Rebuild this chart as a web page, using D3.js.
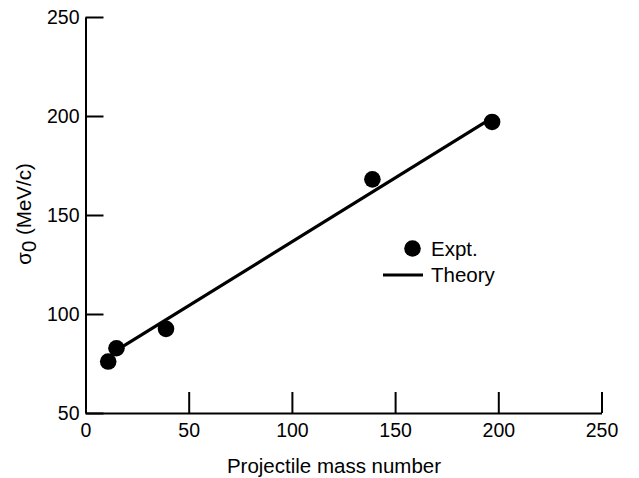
<!DOCTYPE html>
<html>
<head>
<meta charset="utf-8">
<script src="https://cdn.jsdelivr.net/npm/d3@7"></script>
<style>
  html, body { margin: 0; padding: 0; background: #fff; }
  svg { display: block; }
  text { font-family: "Liberation Sans", Arial, Helvetica, sans-serif; fill: #000; }
</style>
</head>
<body>
<svg id="chart" width="639" height="478"></svg>
<script>
// Data
const massNumbers = [11, 15, 39, 139, 197];
const sigma0 = [76, 82.7, 92.5, 168, 197];
const theoryMass = [14, 197];
const theorySigma = [81, 199];
const xTicks = [0, 50, 100, 150, 200, 250];
const yTicks = [50, 100, 150, 200, 250];
const legendLabels = ["Expt.", "Theory"];

const svg = d3.select("#chart");
const x = d3.scaleLinear().domain([0, 250]).range([85.5, 601.5]);
const y = d3.scaleLinear().domain([50, 250]).range([413, 17]);
const fs = 19.5;
const fsTitle = 20.5;

// X axis
const gx = svg.append("g").attr("transform", `translate(0,${y(50)})`)
  .call(d3.axisBottom(x).tickValues(xTicks).tickFormat(d3.format("d"))
    .tickSizeInner(-21).tickSizeOuter(0).tickPadding(10));
gx.selectAll("path, line").attr("stroke", "#000").attr("stroke-width", 2);
gx.selectAll("text").attr("font-size", fs).attr("font-family", null);

// Y axis
const gy = svg.append("g").attr("transform", `translate(${x(0)},0)`)
  .call(d3.axisLeft(y).tickValues(yTicks).tickFormat(d3.format("d"))
    .tickSizeInner(-18).tickSizeOuter(0).tickPadding(6));
gy.selectAll("path, line").attr("stroke", "#000").attr("stroke-width", 2);
gy.selectAll("text").attr("font-size", fs).attr("font-family", null);

// Theory line
const line = d3.line().x(d => x(d[0])).y(d => y(d[1]));
svg.append("path")
  .datum(theoryMass.map((m, i) => [m, theorySigma[i]]))
  .attr("d", line)
  .attr("fill", "none").attr("stroke", "#000").attr("stroke-width", 3.2);

// Experimental points
svg.append("g").selectAll("circle")
  .data(massNumbers.map((m, i) => [m, sigma0[i]]))
  .join("circle")
  .attr("cx", d => x(d[0])).attr("cy", d => y(d[1]))
  .attr("r", 8.3).attr("fill", "#000");

// Axis titles
svg.append("text")
  .attr("x", 334).attr("y", 473)
  .attr("text-anchor", "middle").attr("font-size", fsTitle)
  .text("Projectile mass number");

const yt = svg.append("text")
  .attr("transform", "translate(31,214) rotate(-90)")
  .attr("text-anchor", "middle").attr("font-size", fsTitle);
yt.append("tspan").text("σ");
yt.append("tspan").attr("dy", 5).text("0");
yt.append("tspan").attr("dy", -5).text(" (MeV/c)");

// Legend
const lg = svg.append("g");
lg.append("circle").attr("cx", 412.5).attr("cy", 248.5).attr("r", 8.3).attr("fill", "#000");
lg.append("text").attr("x", 431).attr("y", 256).attr("font-size", fsTitle).text(legendLabels[0]);
lg.append("line").attr("x1", 383).attr("x2", 423).attr("y1", 275).attr("y2", 275)
  .attr("stroke", "#000").attr("stroke-width", 3);
lg.append("text").attr("x", 431).attr("y", 282).attr("font-size", fsTitle).text(legendLabels[1]);
</script>
</body>
</html>
